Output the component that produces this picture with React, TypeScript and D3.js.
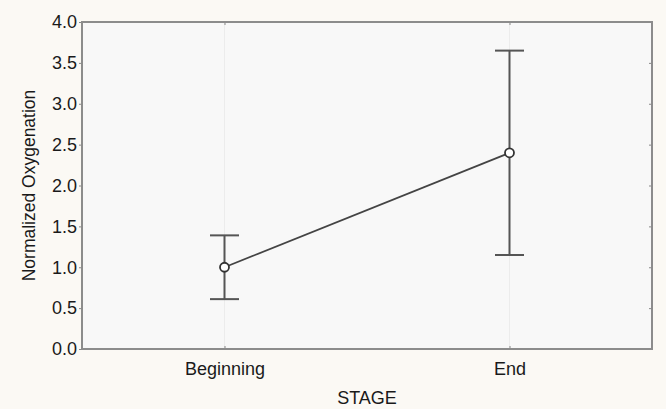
import React, { useEffect, useRef } from "react";
import * as d3 from "d3";

const stages = ["Beginning", "End"];
const means = [1.0, 2.4];
const upper = [1.39, 3.65];
const lower = [0.61, 1.15];
const yTicks = [0, 0.5, 1, 1.5, 2, 2.5, 3, 3.5, 4];

const FONT = "Liberation Sans, Arial, sans-serif";

export default function App() {
  const ref = useRef<SVGSVGElement>(null);

  useEffect(() => {
    const svg = d3.select(ref.current);
    svg.selectAll("*").remove();

    const width = 666;
    const height = 409;
    const margin = { top: 22, right: 14, bottom: 60, left: 82 };
    const innerW = width - margin.left - margin.right;
    const innerH = height - margin.top - margin.bottom;

    svg.append("rect").attr("width", width).attr("height", height).attr("fill", "#fbf9f4");

    const g = svg.append("g").attr("transform", `translate(${margin.left},${margin.top})`);

    const x = d3.scalePoint<string>().domain(stages).range([0, innerW]).padding(0.5);
    const y = d3.scaleLinear().domain([0, 4]).range([innerH, 0]);

    g.append("rect").attr("width", innerW).attr("height", innerH).attr("fill", "#f8f8f8");

    // faint grid at categories
    g.selectAll(".vgrid")
      .data(stages)
      .join("line")
      .attr("x1", (d) => x(d)!)
      .attr("x2", (d) => x(d)!)
      .attr("y1", 0)
      .attr("y2", innerH)
      .attr("stroke", "#ececec")
      .attr("stroke-width", 1);

    // left axis
    const yAxis = d3.axisLeft(y).tickValues(yTicks).tickFormat(d3.format(".1f")).tickSize(3).tickPadding(2);
    const ya = g.append("g").call(yAxis);
    ya.select(".domain").remove();
    ya.selectAll("line").attr("stroke", "#888");
    ya.selectAll("text").attr("font-family", FONT).attr("font-size", 18).attr("fill", "#1a1a1a");

    // right inner ticks
    const yr = g
      .append("g")
      .attr("transform", `translate(${innerW},0)`)
      .call(d3.axisLeft(y).tickValues(yTicks).tickSize(3).tickFormat(() => ""));
    yr.select(".domain").remove();
    yr.selectAll("line").attr("stroke", "#888");

    // bottom axis
    const xa = g
      .append("g")
      .attr("transform", `translate(0,${innerH})`)
      .call(d3.axisBottom(x).tickSize(-3).tickPadding(13));
    xa.select(".domain").remove();
    xa.selectAll("line").attr("stroke", "#888");
    xa.selectAll("text").attr("font-family", FONT).attr("font-size", 18).attr("fill", "#1a1a1a");

    const xt = g.append("g").call(d3.axisTop(x).tickSize(-3).tickFormat(() => ""));
    xt.select(".domain").remove();
    xt.selectAll("line").attr("stroke", "#888");

    // frame
    g.append("rect")
      .attr("width", innerW)
      .attr("height", innerH)
      .attr("fill", "none")
      .attr("stroke", "#8c8c8c")
      .attr("stroke-width", 2);

    // error bars
    const cap = 14.5;
    const bars = g.selectAll(".err").data(stages).join("g").attr("stroke", "#555").attr("stroke-width", 2);
    bars.append("line")
      .attr("x1", (d) => x(d)!)
      .attr("x2", (d) => x(d)!)
      .attr("y1", (_, i) => y(upper[i]))
      .attr("y2", (_, i) => y(lower[i]));
    bars.append("line")
      .attr("x1", (d) => x(d)! - cap)
      .attr("x2", (d) => x(d)! + cap)
      .attr("y1", (_, i) => y(upper[i]))
      .attr("y2", (_, i) => y(upper[i]));
    bars.append("line")
      .attr("x1", (d) => x(d)! - cap)
      .attr("x2", (d) => x(d)! + cap)
      .attr("y1", (_, i) => y(lower[i]))
      .attr("y2", (_, i) => y(lower[i]));

    // mean line
    const line = d3
      .line<string>()
      .x((d) => x(d)!)
      .y((_, i) => y(means[i]));
    g.append("path").datum(stages).attr("d", line).attr("fill", "none").attr("stroke", "#444").attr("stroke-width", 1.8);

    g.selectAll(".pt")
      .data(stages)
      .join("circle")
      .attr("cx", (d) => x(d)!)
      .attr("cy", (_, i) => y(means[i]))
      .attr("r", 4.5)
      .attr("fill", "#fff")
      .attr("stroke", "#333")
      .attr("stroke-width", 1.8);

    // axis titles
    svg.append("text")
      .attr("x", margin.left + innerW / 2)
      .attr("y", 404)
      .attr("text-anchor", "middle")
      .attr("font-family", FONT)
      .attr("font-size", 18)
      .attr("fill", "#1a1a1a")
      .text("STAGE");

    svg.append("text")
      .attr("transform", `translate(35,${margin.top + innerH / 2}) rotate(-90)`)
      .attr("text-anchor", "middle")
      .attr("font-family", FONT)
      .attr("font-size", 17.5)
      .attr("fill", "#1a1a1a")
      .text("Normalized Oxygenation");
  }, []);

  return (
    <div style={{ position: "absolute", left: 0, top: 0 }}>
      <svg ref={ref} width={666} height={409} style={{ display: "block" }} />
    </div>
  );
}
